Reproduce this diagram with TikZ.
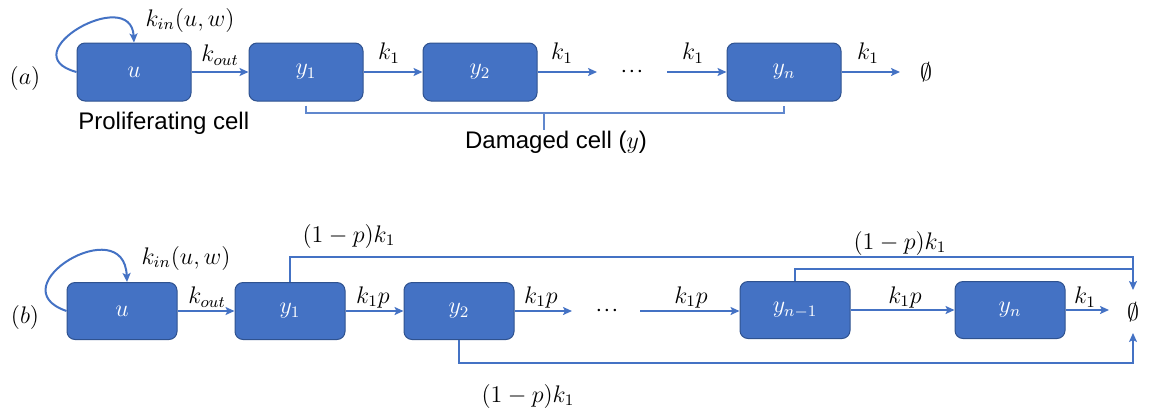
\documentclass[tikz,border=0pt]{standalone}
\usepackage[no-math]{fontspec}
\newfontfamily\arialf{Liberation Sans}
\usetikzlibrary{arrows.meta,calc}
\definecolor{boxblue}{HTML}{4472C4}
\definecolor{boxedge}{HTML}{2F528F}
\definecolor{lineblue}{HTML}{4472C4}
\newcommand{\mydots}{${\cdot}\mkern1mu{\cdot}\mkern1mu{\cdot}$}
\begin{document}
\begin{tikzpicture}[x=0.5pt,y=-0.5pt, font=\fontsize{12}{14}\selectfont,
  cell/.style={draw=boxedge, line width=0.5pt, fill=boxblue, rounded corners=4pt,
    minimum width=57pt, minimum height=29pt, text=white, inner sep=0pt},
  cellb/.style={cell, minimum width=55pt, minimum height=28.5pt},
  arr/.style={draw=lineblue, line width=1pt, -{Stealth[length=4.5pt,width=4pt,inset=1pt]}},
  conn/.style={draw=lineblue, line width=1pt},
  bracket/.style={draw=lineblue!85, line width=0.7pt},
  lab/.style={inner sep=0pt}]
\useasboundingbox (0,0) rectangle (1151,414);

% ---------- (a) ----------
\node[lab] (la) at (25,78) {$(a)$};
\node[cell] (u) at (134,72) {$u$};
\node[cell] (y1) at (306,72) {$y_1$};
\node[cell] (y2) at (480,72) {$y_2$};
\node[cell] (yn) at (784,72) {$y_n$};
\node[lab] (ea) at (926,72) {$\emptyset$};
\coordinate (a1) at (597,72);
\coordinate (a2) at (667,72);
\coordinate (a3) at (900,72);
\node[lab] (da) at (632,72) {\mydots};

\draw[arr] (u.west) .. controls +(-67,-18) and +(-3,-58) .. (u.north);
\draw[arr] (u) -- (y1);
\draw[arr] (y1) -- (y2);
\draw[arr] (y2.east) -- (a1);
\draw[arr] (a2) -- (yn.west);
\draw[arr] (yn.east) -- (a3);

\node[lab] (kina) at (190,20) {$k_{in}(u,w)$};
\node[lab] (kouta) at (220,55) {$k_{out}$};
\node[lab] (ka1) at (389,53) {$k_1$};
\node[lab] (ka2) at (562,53) {$k_1$};
\node[lab] (ka3) at (693,53) {$k_1$};
\node[lab] (ka4) at (868,53) {$k_1$};

\node[lab, anchor=west] (prol) at (78,123) {\arialf Proliferating cell};

\coordinate (bt) at (544,113);
\draw[bracket] ($(y1.south)+(0,4)$) |- (bt) -| ($(yn.south)+(0,4)$);
\draw[bracket] (bt) -- ++(0,17) coordinate (bb);
\node[lab] (dam) at (556,142) {\arialf Damaged cell ($y$)};

% ---------- (b) ----------
\node[lab] (lb) at (25,317) {$(b)$};
\node[cellb] (u2) at (122,311) {$u$};
\node[cellb] (z1) at (290,311) {$y_1$};
\node[cellb] (z2) at (459,311) {$y_2$};
\node[cellb] (zm) at (795,310) {$y_{n-1}$};
\node[cellb] (zn) at (1010,310) {$y_n$};
\node[lab] (eb) at (1133,312) {$\emptyset$};
\node[lab] (db) at (607,311) {\mydots};
\coordinate (b1) at (572,311);
\coordinate (b2) at (640,311);
\coordinate (b3) at (1109,310);
\coordinate (eN) at (1133,290);
\coordinate (eS) at (1133,333);
\coordinate (j2) at (1133,269);

\draw[arr] (u2.west) .. controls +(-70,-24) and +(-3,-72) .. ([xshift=2.5pt]u2.north);
\draw[arr] (u2) -- (z1);
\draw[arr] (z1.east) -- (z1.east -| z2.west);
\draw[arr] (z2.east) -- (b1);
\draw[arr] (b2) -- (b2 -| zm.west);
\draw[arr] (zm) -- (zn);
\draw[arr] (zn.east) -- (b3);

\draw[arr] (z1.north) -- ++(0,-25) -| (eN);
\draw[conn] (zm.north) |- (j2);
\draw[arr] (z2.south) -- ++(0,23) -| (eS);

\node[lab] (kinb) at (186,258) {$k_{in}(u,w)$};
\node[lab] (koutb) at (207,297) {$k_{out}$};
\node[lab] (kb1) at (373,297) {$k_1p$};
\node[lab] (kb2) at (541,297) {$k_1p$};
\node[lab] (kb3) at (691,297) {$k_1p$};
\node[lab] (kb4) at (905,297) {$k_1p$};
\node[lab] (kb5) at (1085,297) {$k_1$};
\node[lab] (pl1) at (349,236) {$(1-p)k_1$};
\node[lab] (pl2) at (900,243) {$(1-p)k_1$};
\node[lab] (pl3) at (528,396) {$(1-p)k_1$};
\end{tikzpicture}
\end{document}
